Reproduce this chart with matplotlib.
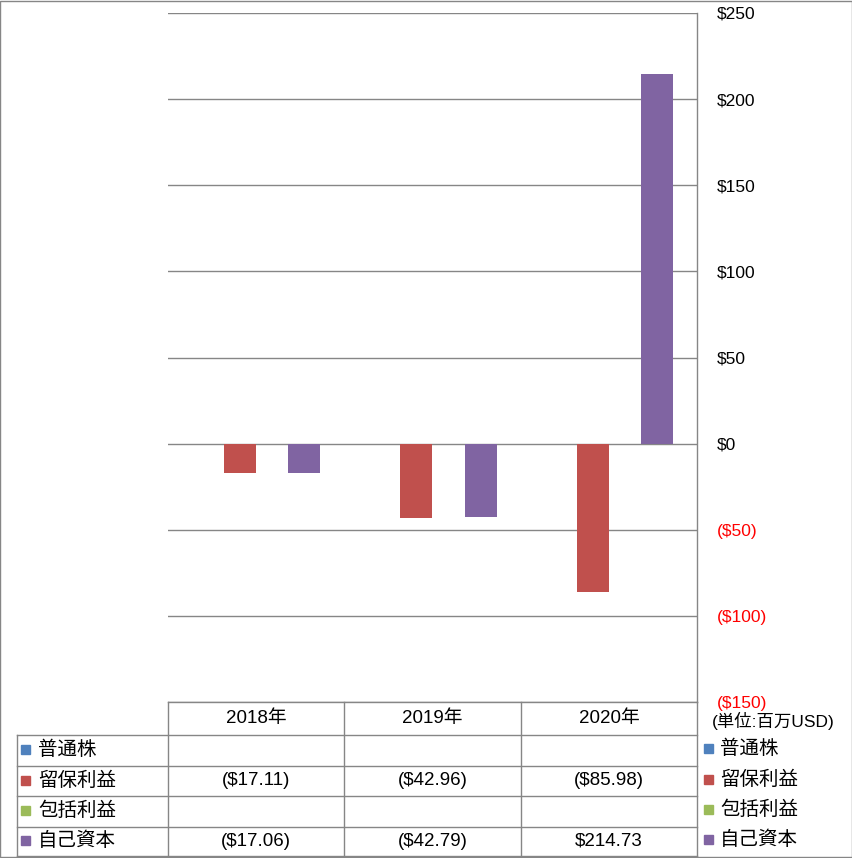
# -*- coding: utf-8 -*-
# 自己資本の推移 (データテーブル付き棒グラフ)
import matplotlib
matplotlib.use("Agg")
import matplotlib.pyplot as plt
import numpy as np

plt.rcParams['font.family'] = ['Liberation Sans', 'Noto Sans CJK JP', 'DejaVu Sans']

# データ
years = ["2018年", "2019年", "2020年"]
series = ["普通株", "留保利益", "包括利益", "自己資本"]
common_stock = [None, None, None]
retained = [-17.11, -42.96, -85.98]
comprehensive = [None, None, None]
equity = [-17.06, -42.79, 214.73]
values = [common_stock, retained, comprehensive, equity]
colors = ["#4F81BD", "#C0504D", "#9BBB59", "#8064A2"]
unit_label = "(単位:百万USD)"

W, H = 853, 858
grid_c = "#868686"

fig = plt.figure(figsize=(W / 100, H / 100), dpi=100)

# 棒グラフ本体
ax = fig.add_axes([168 / W, (H - 702) / H, 529 / W, 689 / H])
x = np.arange(len(years))
w = 32 / 176.3
for i, vals in enumerate(values):
    v = [np.nan if a is None else a for a in vals]
    ax.bar(x + (i - 1.5) * w, v, width=w, color=colors[i], zorder=3)

ax.set_xlim(-0.5, 2.5)
ax.set_ylim(-150, 250)
ticks = np.arange(-150, 251, 50)
ax.set_yticks(ticks)
ax.set_yticklabels(["($%d)" % abs(t) if t < 0 else "$%d" % t for t in ticks])
ax.yaxis.tick_right()
ax.tick_params(axis='y', length=0, pad=14, labelsize=12.5)
for tk, t in zip(ax.yaxis.get_major_ticks(), ticks):
    if t < 0:
        tk.label2.set_color("red")
ax.set_xticks([])
ax.grid(axis='y', color=grid_c, linewidth=1, zorder=0)
for s in ["left", "top", "bottom"]:
    ax.spines[s].set_visible(False)
ax.spines["right"].set_color(grid_c)
ax.spines["right"].set_linewidth(1)

# データテーブル (ピクセル座標の重ね合わせ軸)
ov = fig.add_axes([0, 0, 1, 1], facecolor="none")
ov.set_xlim(0, W)
ov.set_ylim(H, 0)
ov.axis("off")

col_x = [168, 344, 521, 697]
row_y = [702, 735, 765.5, 796, 826.5, 856]
lk = dict(color=grid_c, linewidth=1)
ov.plot([168, 697], [row_y[0], row_y[0]], **lk)
for yy in row_y[1:]:
    ov.plot([17, 697], [yy, yy], **lk)
for xx in col_x:
    ov.plot([xx, xx], [row_y[0], row_y[-1]], **lk)
ov.plot([17, 17], [row_y[1], row_y[-1]], **lk)

def fmt(v):
    if v is None:
        return ""
    return "($%.2f)" % abs(v) if v < 0 else "$%.2f" % v

for j, yr in enumerate(years):
    cx = (col_x[j] + col_x[j + 1]) / 2
    ov.text(cx, (row_y[0] + row_y[1]) / 2, yr, ha="center", va="center", fontsize=13.5)
    for i, vals in enumerate(values):
        cy = (row_y[i + 1] + row_y[i + 2]) / 2
        ov.text(cx, cy, fmt(vals[j]), ha="center", va="center", fontsize=13.5)

for i, name in enumerate(series):
    cy = (row_y[i + 1] + row_y[i + 2]) / 2
    ov.add_patch(plt.Rectangle((21, cy - 5), 9, 9, color=colors[i]))
    ov.text(38, cy, name, ha="left", va="center", fontsize=14)
    ov.add_patch(plt.Rectangle((704, cy - 6), 9, 9, color=colors[i]))
    ov.text(720, cy - 1, name, ha="left", va="center", fontsize=14)

ov.text(773, 721, unit_label, ha="center", va="center", fontsize=12.5)

# 外枠
ov.add_patch(plt.Rectangle((0.5, 0.5), W - 1.5, H - 1.5, fill=False, edgecolor=grid_c, linewidth=1))

fig.savefig("out.png", dpi=100)
